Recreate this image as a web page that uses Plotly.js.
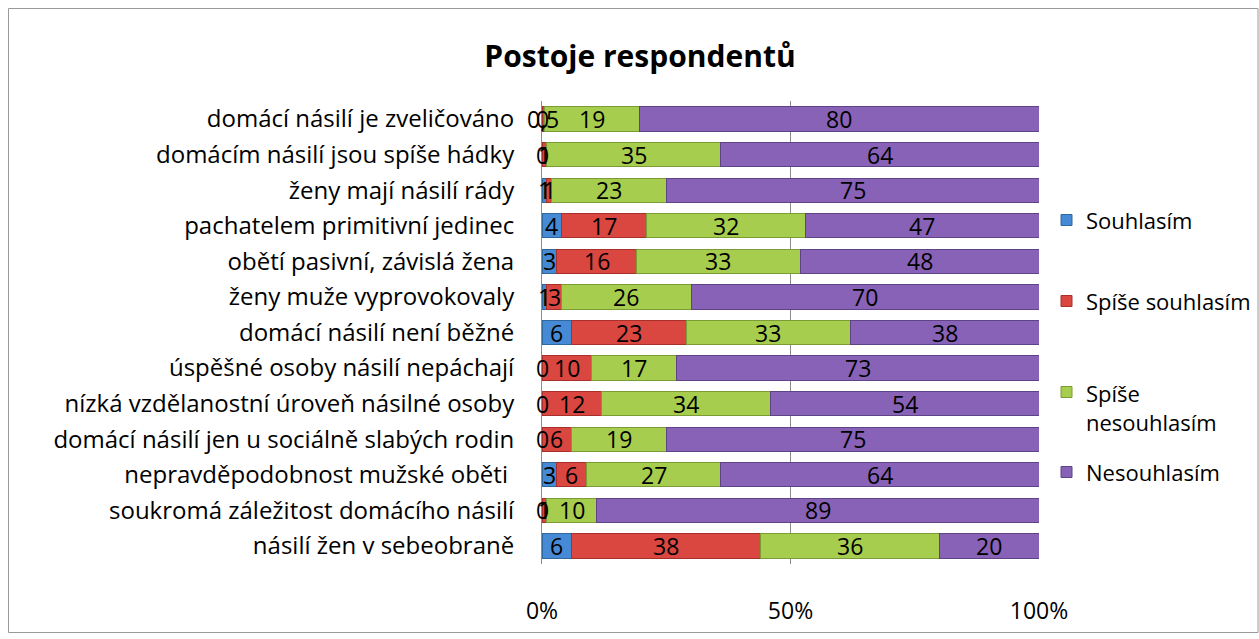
<!DOCTYPE html>
<html><head><meta charset="utf-8">
<script src="https://cdn.plot.ly/plotly-3.0.1.min.js"></script>
<style>body{margin:0;background:#fff}#c{width:1259px;height:639px}</style>
</head><body><div id="c"></div>
<script>
const categories = [
  "domácí násilí je zveličováno",
  "domácím násilí jsou spíše hádky",
  "ženy mají násilí rády",
  "pachatelem primitivní jedinec",
  "obětí pasivní, závislá žena",
  "ženy muže vyprovokovaly",
  "domácí násilí není běžné",
  "úspěšné osoby násilí nepáchají",
  "nízká vzdělanostní úroveň násilné osoby",
  "domácí násilí jen u sociálně slabých rodin",
  "nepravděpodobnost mužské oběti ",
  "soukromá záležitost domácího násilí",
  "násilí žen v sebeobraně"
];
const seriesNames = ["Souhlasím", "Spíše souhlasím", "Spíše nesouhlasím", "Nesouhlasím"];
const souhlasim       = [0, 0, 1, 4, 3, 1, 6, 0, 0, 0, 3, 0, 6];
const spiseSouhlasim  = [0.5, 1, 1, 17, 16, 3, 23, 10, 12, 6, 6, 1, 38];
const spiseNesouhlasim= [19, 35, 23, 32, 33, 26, 33, 17, 34, 19, 27, 10, 36];
const nesouhlasim     = [80, 64, 75, 47, 48, 70, 38, 73, 54, 75, 64, 89, 20];
const xTickVals = [0, 50, 100];
const xTickText = ["0%", "50%", "100%"];

const series = [souhlasim, spiseSouhlasim, spiseNesouhlasim, nesouhlasim];
const fills = ["#4689d4", "#da4741", "#a6cd4d", "#8762b6"];
const edges = ["#2f679f", "#a8302b", "#7b9c34", "#5f4387"];
const FONT = "Open Sans, Noto Sans, sans-serif";
const FS = 23;
const fmt = v => String(v).replace(".", ",");

const traces = series.map((vals, i) => ({
  type: "bar",
  orientation: "h",
  name: seriesNames[i],
  y: categories,
  x: vals,
  marker: {color: fills[i], line: {color: edges[i], width: 1}},
  showlegend: false,
  hoverinfo: "skip"
}));

const L = 542, R = 1039, T = 101, B = 564;
const W = R - L, H = B - T;
const px = x => (x - L) / W;
const py = y => (B - y) / H;

const shapes = [
  {type: "rect", xref: "paper", yref: "paper", x0: px(8.5), x1: px(1258), y0: py(8.5), y1: py(632.5),
   line: {color: "#9a9a9a", width: 1}, fillcolor: "rgba(0,0,0,0)", layer: "below"}
];
const annotations = [];
// data labels, centred on each (percent-normalised) segment
categories.forEach((c, j) => {
  const total = series.reduce((s, arr) => s + arr[j], 0);
  let start = 0;
  series.forEach((arr, i) => {
    const w = arr[j] / total * 100;
    annotations.push({xref: "x", yref: "y", x: start + w / 2, y: c, text: fmt(arr[j]),
      showarrow: false, xanchor: "center", yanchor: "middle",
      font: {family: FONT, size: FS, color: "#000"}});
    start += w;
  });
});
const legendY = [220, 301, 392, 472];
const legendText = ["Souhlasím", "Spíše souhlasím", "Spíše<br>nesouhlasím", "Nesouhlasím"];
legendY.forEach((y, i) => {
  shapes.push({type: "rect", xref: "paper", yref: "paper",
    x0: px(1061), x1: px(1072), y0: py(y - 5.5), y1: py(y + 5.5),
    fillcolor: fills[i], line: {color: edges[i], width: 1}});
  annotations.push({xref: "paper", yref: "paper", x: px(1084), y: py(i === 2 ? y + 15 : y),
    text: legendText[i], showarrow: false, xanchor: "left", yanchor: "middle", align: "left",
    font: {family: FONT, size: 22, color: "#000"}});
});

const layout = {
  width: 1259, height: 639,
  margin: {l: L, r: 1259 - R, t: T, b: 639 - B},
  paper_bgcolor: "#fff", plot_bgcolor: "#fff",
  barmode: "stack", barnorm: "percent", bargap: 0.32,
  title: {text: "<b>Postoje respondentů</b>", x: 640 / 1259, xanchor: "center", y: 1 - 56 / 639, yanchor: "middle",
    font: {family: FONT, size: 30, color: "#000"}},
  xaxis: {range: [0, 100], tickvals: xTickVals, ticktext: xTickText, showgrid: true, gridcolor: "#8c8c8c",
    gridwidth: 1, zeroline: false, showline: false, ticks: "outside", ticklen: 26, tickcolor: "rgba(0,0,0,0)",
    tickfont: {family: FONT, size: FS, color: "#000"}, fixedrange: true},
  yaxis: {autorange: "reversed", type: "category", showline: true, linecolor: "#8c8c8c", linewidth: 1,
    showgrid: false, ticks: "", ticklabelstandoff: 22, tickfont: {family: FONT, size: 24, color: "#000"}},
  shapes: shapes,
  annotations: annotations
};
Plotly.newPlot("c", traces, layout, {displayModeBar: false, staticPlot: true});
</script>
</body></html>
